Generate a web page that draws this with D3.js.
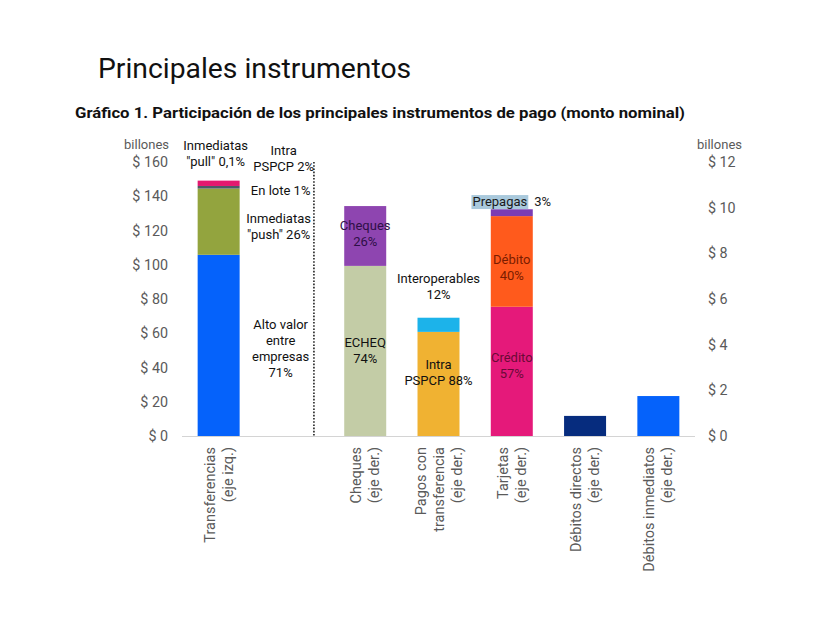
<!DOCTYPE html>
<html>
<head>
<meta charset="utf-8">
<script src="https://cdn.jsdelivr.net/npm/d3@7"></script>
<style>
  html, body { margin: 0; padding: 0; background: #ffffff; }
  svg { display: block; font-family: Roboto, "Noto Sans", sans-serif; }
</style>
</head>
<body>
<svg id="chart" width="822" height="618"></svg>
<script>
// ---------- Data ----------
const categories = ["Transferencias", "gap", "Cheques", "Pagos con transferencia", "Tarjetas", "Débitos directos", "Débitos inmediatos"];
const categoryLabelLines = [
  ["Transferencias", "(eje izq.)"],
  [],
  ["Cheques", "(eje der.)"],
  ["Pagos con", "transferencia", "(eje der.)"],
  ["Tarjetas", "(eje der.)"],
  ["Débitos directos", "(eje der.)"],
  ["Débitos inmediatos", "(eje der.)"]
];
const categoryAxis = ["left", null, "right", "right", "right", "right", "right"];

// stacked segments (billones), bottom to top
const transferenciasSegments = ["Alto valor entre empresas", "Inmediatas push", "En lote", "Intra PSPCP", "Inmediatas pull"];
const transferenciasValues = [105.8, 38.7, 1.5, 3.0, 0.15];
const chequesSegments = ["ECHEQ", "Cheques"];
const chequesValues = [7.45, 2.62];
const pagosSegments = ["Intra PSPCP", "Interoperables"];
const pagosValues = [4.56, 0.62];
const tarjetasSegments = ["Crédito", "Débito", "Prepagas"];
const tarjetasValues = [5.66, 3.97, 0.30];
const debitosDirectosValues = [0.88];
const debitosInmediatosValues = [1.75];

const leftTicks = [0, 20, 40, 60, 80, 100, 120, 140, 160];
const rightTicks = [0, 2, 4, 6, 8, 10, 12];

// ---------- Styles ----------
const segmentColors = {
  "Transferencias": ["#0562fb", "#93a43e", "#4b5a66", "#e3196f", "#e3196f"],
  "Cheques": ["#c3cca6", "#8e45b0"],
  "Pagos con transferencia": ["#f0b232", "#1cb3ea"],
  "Tarjetas": ["#e5197a", "#ff5a1c", "#7b3cb3"],
  "Débitos directos": ["#062c7e"],
  "Débitos inmediatos": ["#0562fb"]
};

// annotations: lines, category, y value of first baseline (in the axis units of the category), x offset from bar centre
const annotations = [
  { lines: ["Inmediatas", "\"pull\" 0,1%"], cat: "Transferencias", y: 167.0, dx: -3, color: "#111" },
  { lines: ["Intra", "PSPCP 2%"], cat: "Transferencias", y: 164.1, dx: 65, color: "#111" },
  { lines: ["En lote 1%"], cat: "Transferencias", y: 140.7, dx: 62, color: "#111" },
  { lines: ["Inmediatas", "\"push\" 26%"], cat: "Transferencias", y: 124.4, dx: 60, color: "#111" },
  { lines: ["Alto valor", "entre", "empresas", "71%"], cat: "Transferencias", y: 62.5, dx: 62, color: "#111" },
  { lines: ["Cheques", "26%"], cat: "Cheques", y: 9.02, dx: 0, color: "#2e0f47" },
  { lines: ["ECHEQ", "74%"], cat: "Cheques", y: 3.90, dx: 0, color: "#111" },
  { lines: ["Interoperables", "12%"], cat: "Pagos con transferencia", y: 6.70, dx: 0, color: "#111" },
  { lines: ["Intra", "PSPCP 88%"], cat: "Pagos con transferencia", y: 2.93, dx: 0, color: "#111" },
  { lines: ["Débito", "40%"], cat: "Tarjetas", y: 7.53, dx: 0, color: "#7a1c00" },
  { lines: ["Crédito", "57%"], cat: "Tarjetas", y: 3.24, dx: 0, color: "#6a0a36" }
];

// ---------- Chart ----------
const svg = d3.select("#chart");
const plot = { left: 182, right: 695, top: 162, bottom: 436 };

const x = d3.scaleBand().domain(categories).range([plot.left, plot.right]).paddingInner(0.427).paddingOuter(0.2135);
const yLeft = d3.scaleLinear().domain([0, 160]).range([plot.bottom, plot.top]);
const yRight = d3.scaleLinear().domain([0, 12]).range([plot.bottom, plot.top]);
const yFor = cat => categoryAxis[categories.indexOf(cat)] === "left" ? yLeft : yRight;

// Titles
svg.append("text").attr("x", 98).attr("y", 78)
  .attr("font-size", 28.3).attr("fill", "#111").text("Principales instrumentos");
svg.append("text").attr("x", 75).attr("y", 118)
  .attr("font-size", 15.5).attr("font-weight", 700).attr("fill", "#111")
  .attr("textLength", 610).attr("lengthAdjust", "spacingAndGlyphs")
  .text("Gráfico 1. Participación de los principales instrumentos de pago (monto nominal)");

// Axes
const tickFmt = d => "$ " + d;
const gL = svg.append("g").attr("transform", `translate(${plot.left},0)`)
  .call(d3.axisLeft(yLeft).tickValues(leftTicks).tickFormat(tickFmt).tickSize(0).tickPadding(14));
const gR = svg.append("g").attr("transform", `translate(${plot.right},0)`)
  .call(d3.axisRight(yRight).tickValues(rightTicks).tickFormat(tickFmt).tickSize(0).tickPadding(13));
[gL, gR].forEach(g => {
  g.select(".domain").remove();
  g.selectAll("text").attr("font-size", 14.3).attr("fill", "#5a5a5a").attr("font-family", "Roboto, sans-serif");
});
svg.append("text").attr("x", 169).attr("y", 149).attr("text-anchor", "end")
  .attr("font-size", 13).attr("fill", "#5a5a5a").text("billones");
svg.append("text").attr("x", 697).attr("y", 149)
  .attr("font-size", 13).attr("fill", "#5a5a5a").text("billones");

// Bars
const allSegments = [
  ["Transferencias", transferenciasValues],
  ["Cheques", chequesValues],
  ["Pagos con transferencia", pagosValues],
  ["Tarjetas", tarjetasValues],
  ["Débitos directos", debitosDirectosValues],
  ["Débitos inmediatos", debitosInmediatosValues]
];
const barsG = svg.append("g");
allSegments.forEach(([cat, vals]) => {
  const y = yFor(cat);
  const tops = d3.cumsum(vals);
  vals.forEach((v, i) => {
    const base = tops[i] - v;
    barsG.append("rect")
      .attr("x", x(cat)).attr("width", x.bandwidth())
      .attr("y", y(tops[i])).attr("height", y(base) - y(tops[i]))
      .attr("fill", segmentColors[cat][i]);
  });
});

// baseline
svg.append("line").attr("x1", plot.left).attr("x2", plot.right)
  .attr("y1", plot.bottom + 0.5).attr("y2", plot.bottom + 0.5)
  .attr("stroke", "#d4d4d4").attr("stroke-width", 1);

// dotted separator between left-axis and right-axis groups
const sepX = x("gap") + x.bandwidth() / 2 + 22;
svg.append("line").attr("x1", sepX).attr("x2", sepX)
  .attr("y1", plot.top).attr("y2", plot.bottom)
  .attr("stroke", "#222").attr("stroke-width", 1.6).attr("stroke-dasharray", "1.6,1.6");

// Annotations
const lineH = 16;
annotations.forEach(a => {
  const cx = x(a.cat) + x.bandwidth() / 2 + a.dx;
  const y0 = yFor(a.cat)(a.y);
  const t = svg.append("text").attr("text-anchor", "middle").attr("font-size", 13).attr("fill", a.color);
  a.lines.forEach((l, i) => t.append("tspan").attr("x", cx).attr("y", y0 + i * lineH).text(l));
});

// Prepagas label with highlight
(function () {
  const cat = "Tarjetas";
  const cx = x(cat) + x.bandwidth() / 2;
  const yb = yRight(10.07);
  const g = svg.append("g");
  const rect = g.append("rect").attr("fill", "#a9c9dc");
  const t1 = g.append("text").attr("font-size", 13).attr("fill", "#1a1a1a").attr("y", yb).text("Prepagas");
  const t2 = g.append("text").attr("font-size", 13).attr("fill", "#1a1a1a").attr("y", yb).text("3%");
  const w1 = t1.node().getComputedTextLength();
  const w2 = t2.node().getComputedTextLength();
  const gap = 7;
  const start = cx - (w1 + gap + w2) / 2;
  t1.attr("x", start);
  t2.attr("x", start + w1 + gap);
  rect.attr("x", start - 1).attr("width", w1 + 2).attr("y", yb - 11).attr("height", 14);
})();

// Category labels (rotated)
const lineGap = 18;
categories.forEach((cat, i) => {
  const lines = categoryLabelLines[i];
  const cx = x(cat) + x.bandwidth() / 2;
  lines.forEach((l, j) => {
    const lx = cx + (j - (lines.length - 1) / 2) * lineGap;
    svg.append("text")
      .attr("transform", `translate(${lx},${plot.bottom + 11}) rotate(-90)`)
      .attr("text-anchor", "end").attr("dy", "0.35em")
      .attr("font-size", 14.5).attr("fill", "#5a5a5a").text(l);
  });
});
</script>
</body>
</html>
